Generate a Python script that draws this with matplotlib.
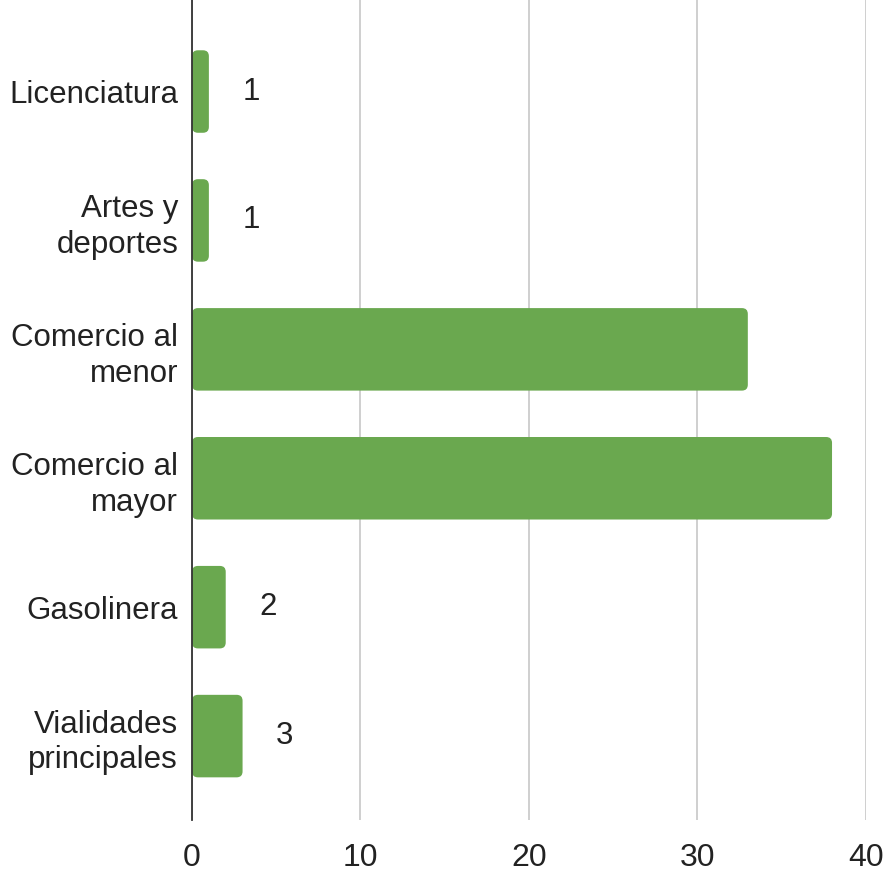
import matplotlib.pyplot as plt
from matplotlib.patches import FancyBboxPatch

plt.rcParams['font.family'] = ['Liberation Sans', 'DejaVu Sans']

categorias = ['Licenciatura', 'Artes y\ndeportes', 'Comercio al\nmenor',
              'Comercio al\nmayor', 'Gasolinera', 'Vialidades\nprincipales']
valores = [1, 1, 33, 38, 2, 3]
etiquetas = ['1', '1', '', '', '2', '3']   # las barras grandes no muestran valor
xticks = [0, 10, 20, 30, 40]

verde = '#6aa84f'

fig = plt.figure(figsize=(8.87, 8.75), dpi=100)
ax = fig.add_axes([0.2165, 0.063, 0.7595, 0.937])

pos = list(range(len(categorias)))
barras = ax.barh(pos, valores, height=0.64, color=verde)

# esquinas redondeadas
for b in barras:
    x, y = b.get_xy()
    w, h = b.get_width(), b.get_height()
    b.set_visible(False)
    p = FancyBboxPatch((x, y), w, h, boxstyle='round,pad=0,rounding_size=0.35',
                       mutation_aspect=0.13, facecolor=verde, edgecolor='none',
                       zorder=2)
    ax.add_patch(p)

for p_, v, t in zip(pos, valores, etiquetas):
    if t:
        ax.text(v + 2, p_, t, va='center', ha='left', fontsize=22.5, color='#222222')

ax.set_xlim(0, 40)
ax.set_ylim(5.65, -0.71)
ax.set_yticks(pos)
ax.set_yticklabels(categorias, fontsize=22.5, linespacing=1.25, color='#222222')
ax.set_xticks(xticks)
ax.set_xticklabels([str(t) for t in xticks], fontsize=23, color='#222222')
ax.tick_params(axis='both', length=0)
ax.tick_params(axis='y', pad=10)
ax.tick_params(axis='x', pad=17)

ax.grid(axis='x', color='#cccccc', linewidth=1.3)
ax.set_axisbelow(True)
for s in ['top', 'right', 'bottom']:
    ax.spines[s].set_visible(False)
ax.spines['left'].set_color('#333333')
ax.spines['left'].set_linewidth(1.3)
ax.spines['left'].set_zorder(3)

fig.savefig('out.png', dpi=100)
